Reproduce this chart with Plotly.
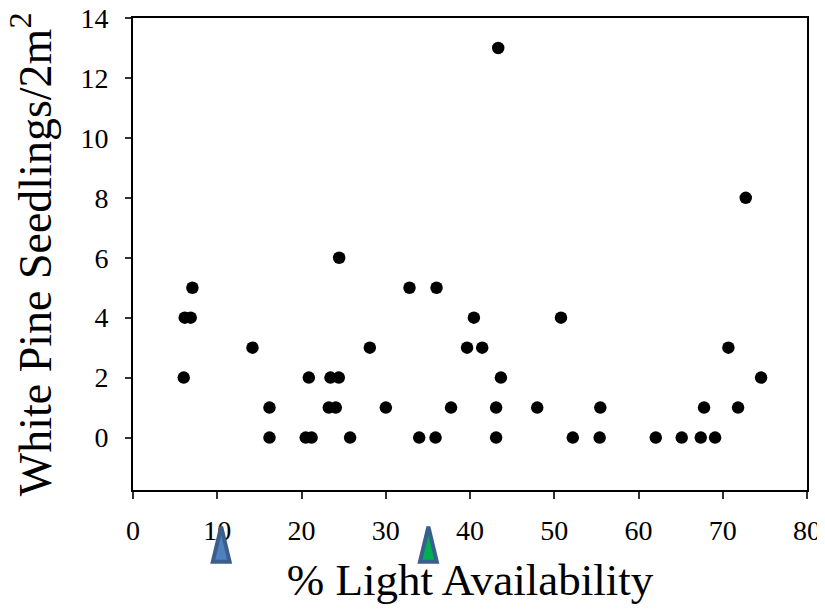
import plotly.graph_objects as go

# % light availability and white pine seedling counts per plot
light = [7.05, 6.14, 6.85, 6.02, 14.18, 16.2, 16.2, 20.87, 20.5, 21.2,
         23.44, 24.43, 23.24, 24.07, 25.77, 24.47, 28.11, 30.01, 32.82, 36.03,
         33.97, 35.91, 37.75, 39.65, 40.46, 41.45, 43.67, 43.1, 43.1, 43.35,
         47.98, 50.8, 52.2, 55.47, 55.39, 62.05, 65.13, 67.39, 67.78, 69.09,
         70.67, 71.82, 72.73, 74.55]
seedlings = [5, 4, 4, 2, 3, 1, 0, 2, 0, 0,
             2, 2, 1, 1, 0, 6, 3, 1, 5, 5,
             0, 0, 1, 3, 4, 3, 2, 1, 0, 13,
             1, 4, 0, 1, 0, 0, 0, 0, 1, 0,
             3, 1, 8, 2]

# marker arrows below the x axis
arrow_x = [10.47, 35.06]
arrow_fill = ["#4F81BD", "#00B050"]

font = "Liberation Serif"

fig = go.Figure()
fig.add_trace(go.Scatter(
    x=light, y=seedlings, mode="markers",
    marker=dict(color="black", size=12.5),
    showlegend=False,
))

for ax, fc in zip(arrow_x, arrow_fill):
    fig.add_shape(
        type="path", xref="x", yref="paper",
        path="M %f,-0.152 L %f,-0.078 L %f,-0.152 Z" % (ax - 1.0, ax, ax + 1.0),
        fillcolor=fc, line=dict(color="#3A5F8F", width=4),
    )

# y title as an annotation so it can sit closer to the page edge
fig.add_annotation(
    text="White Pine Seedlings/2m<sup>2</sup>", textangle=-90,
    xref="paper", yref="paper", x=-0.151, y=0.5,
    xanchor="center", yanchor="middle", showarrow=False,
    font=dict(size=46),
)

# the page body adds an 8px offset, so margins are shifted to compensate
fig.update_layout(
    width=825, height=597,
    margin=dict(l=125, r=26, t=10, b=115),
    paper_bgcolor="white", plot_bgcolor="white",
    font=dict(family=font, color="black", size=28),
    xaxis=dict(
        range=[0, 80], dtick=10, showgrid=False, zeroline=False, automargin=False,
        showline=True, linecolor="black", linewidth=2, mirror=True,
        ticks="outside", ticklen=7, tickwidth=1.5, tickcolor="#333",
        tickfont=dict(size=28), ticklabelstandoff=7, ticklabeloverflow="allow",
        title=dict(text="% Light Availability", font=dict(size=45), standoff=26),
    ),
    yaxis=dict(
        range=[-1.75, 14], tick0=0, dtick=2, showgrid=False, zeroline=False, automargin=False,
        showline=True, linecolor="black", linewidth=2, mirror=True,
        ticks="outside", ticklen=6, tickwidth=1.5, tickcolor="#333",
        tickfont=dict(size=28), ticklabelstandoff=11, ticklabeloverflow="allow",
    ),
)

fig.write_html("out.html")
